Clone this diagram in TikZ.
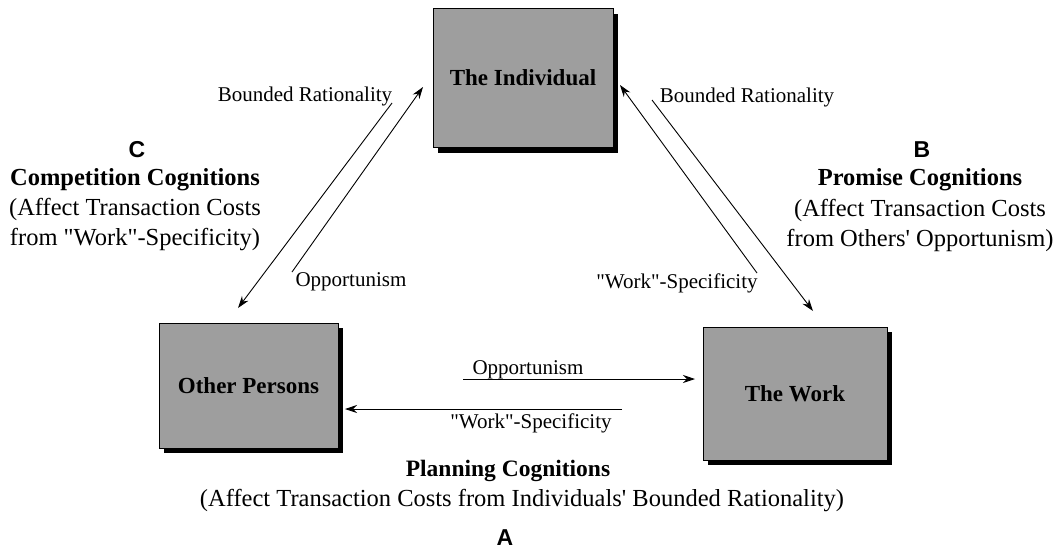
\documentclass[tikz,border=0pt]{standalone}
\usepackage{fontspec}
\setmainfont{Liberation Serif}[Ligatures=TeXOff]
\newfontfamily\abcfont{Liberation Sans}
\usetikzlibrary{arrows.meta,shadows}
\begin{document}
\begin{tikzpicture}[x=1pt,y=-1pt,
  box/.style={draw=black, line width=0.7pt, fill=black!38, font=\fontsize{23}{26}\selectfont\bfseries,
    inner sep=0pt, drop shadow={shadow xshift=5pt, shadow yshift=-5pt, fill=black, opacity=1}},
  lbl/.style={font=\fontsize{21}{24}\selectfont, inner sep=0pt, anchor=base},
  side/.style={font=\fontsize{24.5}{28}\selectfont, inner sep=0pt, anchor=base},
  bot/.style={font=\fontsize{24.5}{28}\selectfont, inner sep=0pt, anchor=base},
  let/.style={font=\abcfont\fontsize{23}{26}\selectfont\bfseries, inner sep=0pt, anchor=base},
  arr/.style={line width=0.9pt, -{Stealth[length=12pt,width=8pt]}}]
\useasboundingbox (0,0) rectangle (1063,552);
\fill[white] (0,0) rectangle (1063,552);

\node[box, minimum width=180pt, minimum height=139pt] (ind) at (523,78) {The Individual};
\node[box, minimum width=179pt, minimum height=125pt] (op) at (248.5,385.5) {Other Persons};
\node[box, minimum width=184pt, minimum height=133pt] (wk) at (795,393.5) {The Work};

% left pair
\coordinate (lA) at (392,103);
\coordinate (lB) at (238,308);
\draw[arr] (lA) -- (lB);
\coordinate (lC) at (292,272);
\coordinate (lD) at (423,87);
\draw[arr] (lC) -- (lD);

% right pair
\coordinate (rA) at (757,273);
\coordinate (rB) at (620,85);
\draw[arr] (rA) -- (rB);
\coordinate (rC) at (652,100);
\coordinate (rD) at (813,311);
\draw[arr] (rC) -- (rD);

% bottom pair
\coordinate (bA) at (463,379);
\coordinate (bB) at (695,379);
\draw[arr] (bA) -- (bB);
\coordinate (bC) at (622,409);
\coordinate (bD) at (345,409);
\draw[arr] (bC) -- (bD);

% labels on connectors
\node[lbl] (l1) at (305,101) {Bounded Rationality};
\node[lbl] (l2) at (747,102) {Bounded Rationality};
\node[lbl] (l3) at (351,286) {Opportunism};
\node[lbl] (l4) at (677,288) {"Work"-Specificity};
\node[lbl] (l5) at (528,374) {Opportunism};
\node[lbl] (l6) at (531,428) {"Work"-Specificity};

% side texts
\node[let] (C) at (137,157) {C};
\node[side] (c1) at (135,185) {\bfseries Competition Cognitions};
\node[side] (c2) at (135,215) {(Affect Transaction Costs};
\node[side] (c3) at (135,245) {from "Work"-Specificity)};

\node[let] (B) at (922,157) {B};
\node[side] (b1) at (920,185) {\bfseries Promise Cognitions};
\node[side] (b2) at (920,216) {(Affect Transaction Costs};
\node[side] (b3) at (920,246) {from Others' Opportunism)};

\node[bot] (a1) at (508,476) {\fontsize{23.5}{28}\selectfont\bfseries Planning Cognitions};
\node[bot] (a2) at (522,506) {(Affect Transaction Costs from Individuals' Bounded Rationality)};
\node[let] (A) at (505,545) {A};
\end{tikzpicture}
\end{document}
